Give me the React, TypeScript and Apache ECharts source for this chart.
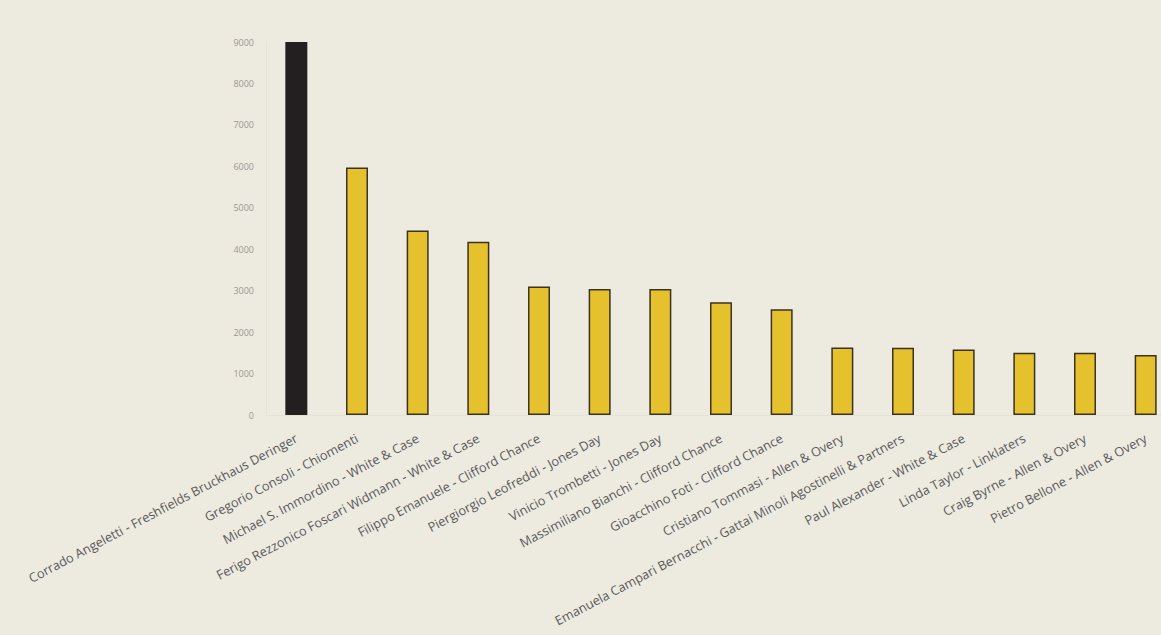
import React, { useEffect, useRef } from "react";
import * as echarts from "echarts";

const categories: string[] = [
  "Corrado Angeletti - Freshfields Bruckhaus Deringer",
  "Gregorio Consoli - Chiomenti",
  "Michael S. Immordino - White & Case",
  "Ferigo Rezzonico Foscari Widmann - White & Case",
  "Filippo Emanuele - Clifford Chance",
  "Piergiorgio Leofreddi - Jones Day",
  "Vinicio Trombetti - Jones Day",
  "Massimiliano Bianchi - Clifford Chance",
  "Gioacchino Foti - Clifford Chance",
  "Cristiano Tommasi - Allen & Overy",
  "Emanuela Campari Bernacchi - Gattai Minoli Agostinelli & Partners",
  "Paul Alexander - White & Case",
  "Linda Taylor - Linklaters",
  "Craig Byrne - Allen & Overy",
  "Pietro Bellone - Allen & Overy",
];

const values: number[] = [
  9000, 5970, 4450, 4180, 3100, 3040, 3040, 2720, 2550, 1630, 1620, 1580, 1500, 1500, 1450,
];

const yTicks = { min: 0, max: 9000, interval: 1000 };

const BG = "#edeae0";
const YELLOW = "#e6c12e";
const BLACK = "#231f20";
const BORDER = "#3b3222";

export default function App() {
  const ref = useRef<HTMLDivElement>(null);
  useEffect(() => {
    if (!ref.current) return;
    const chart = echarts.init(ref.current, undefined, { renderer: "svg" });
    chart.setOption({
      animation: false,
      backgroundColor: BG,
      grid: {
        left: 266,
        right: -15,
        top: 42,
        bottom: 220,
        containLabel: false,
        outerBoundsMode: "none",
      },
      xAxis: {
        type: "category",
        data: categories,
        axisLine: { show: true, lineStyle: { color: "#e5e2d8", width: 1 } },
        axisTick: { show: false },
        axisLabel: {
          interval: 0,
          rotate: 28,
          margin: 22,
          color: "#5a5a5a",
          fontSize: 12.8,
          fontFamily: "Open Sans",
          hideOverlap: false,
        },
      },
      yAxis: {
        type: "value",
        min: yTicks.min,
        max: yTicks.max,
        interval: yTicks.interval,
        axisLine: { show: true, lineStyle: { color: "#e5e2d8", width: 1 } },
        axisTick: { show: false },
        splitLine: { show: false },
        axisLabel: {
          color: "#9a9890",
          fontSize: 9,
          fontFamily: "Open Sans",
          margin: 12,
          formatter: (v: number) => String(v),
        },
      },
      series: [
        {
          type: "bar",
          data: values.map((v, i) =>
            i === 0
              ? { value: v, itemStyle: { color: BLACK, borderWidth: 0 } }
              : { value: v }
          ),
          barWidth: 22,
          itemStyle: { color: YELLOW, borderColor: BORDER, borderWidth: 1.5 },
        },
      ],
    });
    return () => chart.dispose();
  }, []);
  return (
    <div
      ref={ref}
      style={{ position: "fixed", left: 0, top: 0, width: 1161, height: 635, background: BG }}
    />
  );
}
